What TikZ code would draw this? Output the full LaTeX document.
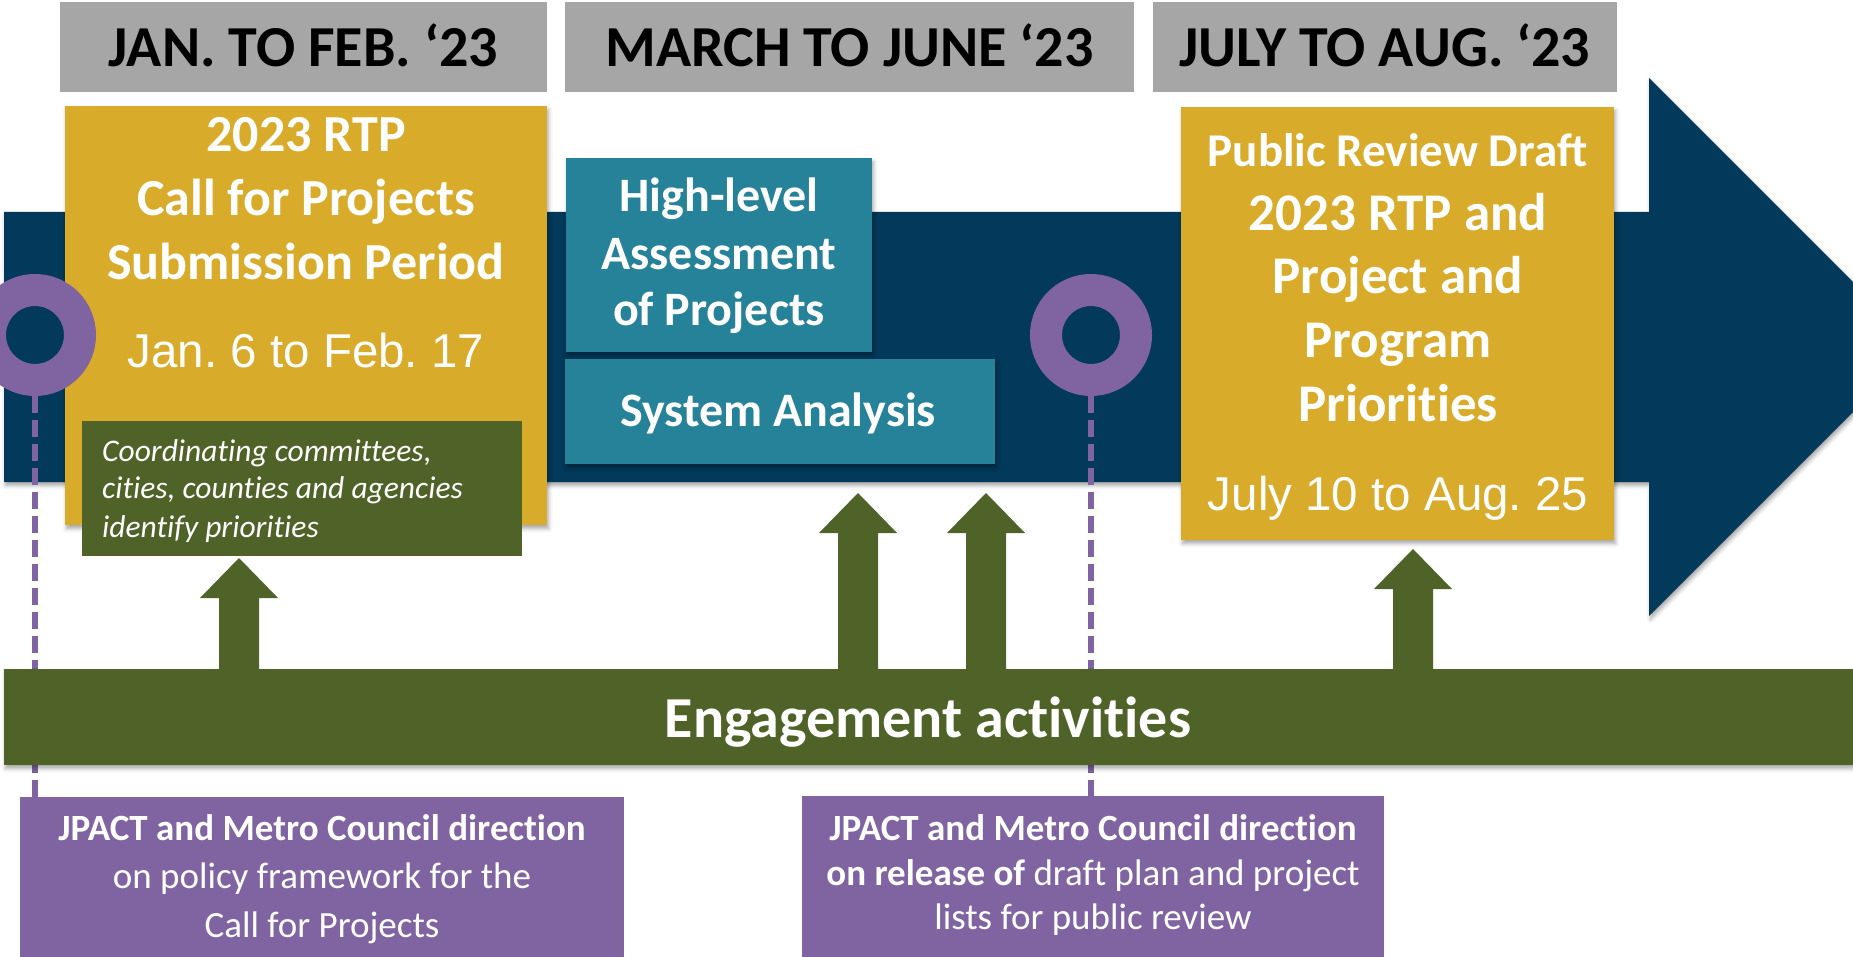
\documentclass[tikz,border=0pt]{standalone}
\usepackage{fontspec}
\setmainfont{Carlito}[RawFeature={-liga;-clig;-calt;-dlig}]
\newfontfamily\arialfont{Liberation Sans}
\usetikzlibrary{shadows.blur}
\definecolor{hdrgrey}{HTML}{A6A6A6}
\definecolor{goldbox}{HTML}{D9AB2A}
\definecolor{navyband}{HTML}{03395A}
\definecolor{tealbox}{HTML}{268299}
\definecolor{purpbox}{HTML}{8064A2}
\definecolor{olivebar}{HTML}{4F6228}
\frenchspacing
\begin{document}
\begin{tikzpicture}[x=1pt,y=-1pt,
  shd/.style={blur shadow={shadow xshift=1.5pt, shadow yshift=-3.5pt, shadow blur radius=4pt, shadow opacity=35}},
  box/.style={anchor=north west, inner sep=0pt, outer sep=0pt},
  lbl/.style={anchor=base, inner sep=0pt, text=white},
  hdrfont/.style={font=\fontsize{58}{70}\selectfont\bfseries, text=black},
  bigbold/.style={font=\fontsize{52}{62}\selectfont\bfseries},
  midbold/.style={font=\fontsize{48}{58}\selectfont\bfseries},
  datefont/.style={font=\fontsize{47.5}{56}\selectfont\arialfont},
  smallit/.style={font=\fontsize{31.5}{38}\selectfont\itshape},
  purpfont/.style={font=\fontsize{37}{46}\selectfont},
  ringnode/.style={circle, draw=purpbox, line width=32pt, fill=navyband, minimum size=90pt, inner sep=0pt},
  dashline/.style={draw=purpbox, line width=6.5pt, dash pattern=on 17pt off 7pt}]
\useasboundingbox (0,0) rectangle (1853,957);
\clip (0,0) rectangle (1853,957);
% main timeline arrow
\fill[navyband, shd] (4,212) -- (1649,212) -- (1649,78) -- (1918,347) -- (1649,616) -- (1649,482) -- (4,482) -- cycle;
% header boxes
\node[box, fill=hdrgrey, minimum width=487pt, minimum height=90pt] (g1) at (60,2) {};
\node[box, fill=hdrgrey, minimum width=569pt, minimum height=90pt] (g2) at (565,2) {};
\node[box, fill=hdrgrey, minimum width=464pt, minimum height=90pt] (g3) at (1153,2) {};
% content boxes
\node[box, shd, fill=goldbox, minimum width=482pt, minimum height=419pt] (y1) at (65,106) {};
\node[box, fill=olivebar, minimum width=440pt, minimum height=135pt] (gs) at (82,421) {};
\node[box, shd, fill=tealbox, minimum width=306pt, minimum height=194pt] (t1) at (566,158) {};
\node[box, shd, fill=tealbox, minimum width=430pt, minimum height=105pt] (t2) at (565,359) {};
\node[box, shd, fill=goldbox, minimum width=433pt, minimum height=433pt] (y3) at (1181,107) {};
% purple boxes
\node[box, fill=purpbox, minimum width=604pt, minimum height=170pt] (p1) at (20,797) {};
\node[box, fill=purpbox, minimum width=582pt, minimum height=170pt] (p2) at (802,796) {};
% milestones
\node[ringnode, shd] (r1) at (35,335) {};
\node[ringnode, shd] (r2) at (1091,335) {};
\draw[dashline] (r1.south) -- (r1.south |- p1.north);
\draw[dashline] (r2.south) -- (r2.south |- p2.north);
% engagement bar
\node[box, shd, fill=olivebar, minimum width=1849pt, minimum height=96pt] (eng) at (4,669) {};
% up arrows
\foreach \cx/\ty in {239/558, 858/493, 986/493, 1413/549} {
  \fill[olivebar] (\cx-20,670) -- (\cx-20,\ty+40) -- (\cx-39,\ty+40) -- (\cx,\ty) -- (\cx+39,\ty+40) -- (\cx+20,\ty+40) -- (\cx+20,670) -- cycle;
}
% header texts
\node[lbl, hdrfont] (g1t) at (303.5,67) {JAN. TO FEB. ‘23};
\node[lbl, hdrfont] (g2t) at (849.5,67) {MARCH TO JUNE ‘23};
\node[lbl, hdrfont] (g3t) at (1385,67) {JULY TO AUG. ‘23};
% yellow box 1
\node[lbl, bigbold] (y1a) at (306,152) {2023 RTP};
\node[lbl, bigbold] (y1b) at (306,216) {Call for Projects};
\node[lbl, bigbold] (y1c) at (306,280) {Submission Period};
\node[lbl, datefont] (y1d) at (306,368) {Jan. 6 to Feb. 17};
% green small box
\node[lbl, smallit, anchor=base west] (gsa) at (102,461) {Coordinating committees,};
\node[lbl, smallit, anchor=base west] (gsb) at (102,498) {cities, counties and agencies};
\node[lbl, smallit, anchor=base west] (gsc) at (102,537) {identify priorities};
% teal boxes
\node[lbl, midbold] (t1a) at (719,212) {High-level};
\node[lbl, midbold] (t1b) at (719,270) {Assessment};
\node[lbl, midbold] (t1c) at (719,326) {of Projects};
\node[lbl, midbold] (t2a) at (778,427) {System Analysis};
% yellow box 3
\node[lbl, font=\fontsize{47}{56}\selectfont\bfseries] (y3a) at (1398,167) {Public Review Draft};
\node[lbl, font=\fontsize{53}{63}\selectfont\bfseries] (y3b) at (1398,231) {2023 RTP and};
\node[lbl, font=\fontsize{53}{63}\selectfont\bfseries] (y3c) at (1398,294) {Project and};
\node[lbl, font=\fontsize{53}{63}\selectfont\bfseries] (y3d) at (1398,358) {Program};
\node[lbl, font=\fontsize{53}{63}\selectfont\bfseries] (y3e) at (1398,421) {Priorities};
\node[lbl, datefont] (y3f) at (1398,510) {July 10 to Aug. 25};
% engagement text
\node[lbl, hdrfont, text=white] (engt) at (928,737) {Engagement activities};
% purple texts
\node[lbl, purpfont] (p1a) at (322,840) {\bfseries JPACT and Metro Council direction};
\node[lbl, purpfont] (p1b) at (322,888) {on policy framework for the};
\node[lbl, purpfont] (p1c) at (322,937) {Call for Projects};
\node[lbl, purpfont] (p2a) at (1093,840) {\bfseries JPACT and Metro Council direction};
\node[lbl, purpfont] (p2b) at (1093,885) {{\bfseries on release of} draft plan and project};
\node[lbl, purpfont] (p2c) at (1093,929) {lists for public review};
\end{tikzpicture}
\end{document}
